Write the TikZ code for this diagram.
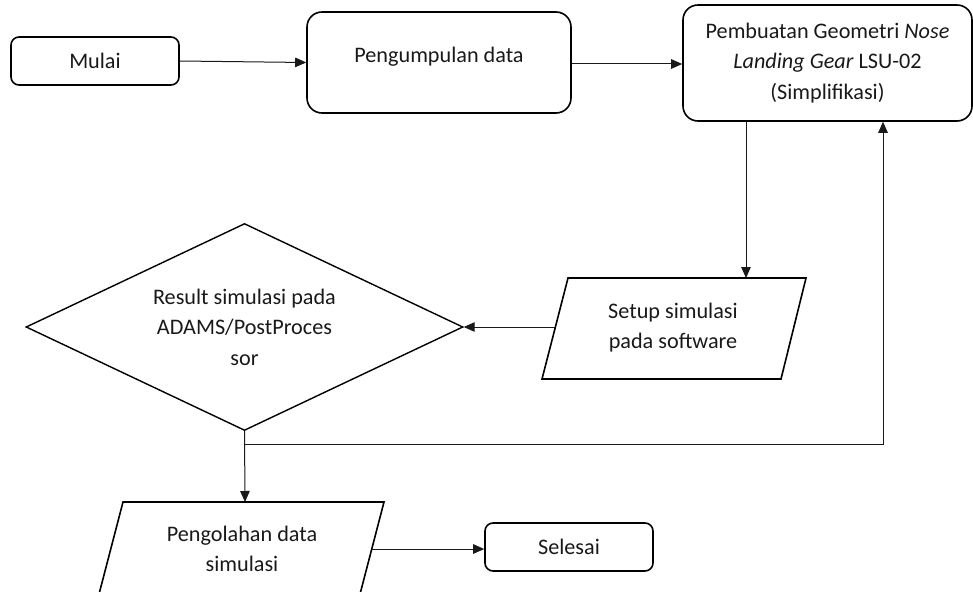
\documentclass[tikz,border=0pt]{standalone}
\usepackage{fontspec}
\setmainfont{Carlito}
\usetikzlibrary{arrows.meta,shapes.geometric}
\begin{document}
\begin{tikzpicture}[x=1pt,y=-1pt,
  txt/.style={font=\fontsize{22.2pt}{30.5pt}\selectfont, text=black!90, align=center},
  rbox/.style={txt, draw=black, line width=1.6pt, rounded corners=15pt, inner sep=0pt},
  sbox/.style={txt, draw=black, line width=1.6pt, rounded corners=8pt, inner sep=0pt},
  dec/.style={txt, diamond, draw=black, line width=1.4pt, aspect=2.1, inner sep=0pt, minimum width=437pt, minimum height=207pt},
  para/.style={draw=black, line width=1.6pt, line join=miter},
  arr/.style={draw=black!90, line width=1pt, -{Triangle[length=11pt,width=9.5pt]}},
  ln/.style={draw=black!90, line width=1pt}
]
\useasboundingbox (0,0) rectangle (973,591);

% nodes
\node[sbox, minimum width=168pt, minimum height=48pt] (mulai) at (95,61) {Mulai};
\node[rbox, minimum width=264pt, minimum height=101pt, text height=15pt, text depth=15pt] (peng) at (439,62.5) {Pengumpulan data};
\node[rbox, minimum width=289pt, minimum height=116pt] (pemb) at (827.5,63)
  {Pembuatan Geometri \textit{Nose}\\ \textit{Landing Gear} LSU-02\\ (Simplifikasi)};
\node[dec] (dia) at (244.5,327) {Result simulasi pada\\ ADAMS/PostProces\\ sor};

% setup parallelogram
\node[txt] (setup) at (673,327.5) {Setup simulasi\\ pada software};
\draw[para] (568,278) -- (806,278) -- (781,379) -- (542,379) -- cycle;
\coordinate (setupN) at (746,278);
\coordinate (setupW) at (555,327);

% pengolahan parallelogram
\node[txt] (olah) at (242,549) {Pengolahan data\\ simulasi};
\draw[para] (123,502) -- (384,502) -- (359,598) -- (98,598) -- cycle;
\coordinate (olahN) at (245,502);
\coordinate (olahE) at (372,549);

\node[sbox, minimum width=168pt, minimum height=48pt] (sel) at (569,547) {Selesai};

\coordinate (fbL) at (245,444);
\coordinate (fbR) at (883,444);

% connectors
\draw[arr] (mulai.east) -- (peng.west);
\draw[arr] (peng.east |- 0,64) -- (pemb.west |- 0,64);
\draw[arr] (pemb.south -| setupN) -- (setupN);
\draw[arr] (setupW) -- (dia.east);
\draw[arr] (dia.south) -- (olahN);
\draw[arr] (fbL) -- (fbR) -- (pemb.south -| fbR);
\draw[arr] (olahE) -- (olahE -| sel.west);
\end{tikzpicture}
\end{document}
